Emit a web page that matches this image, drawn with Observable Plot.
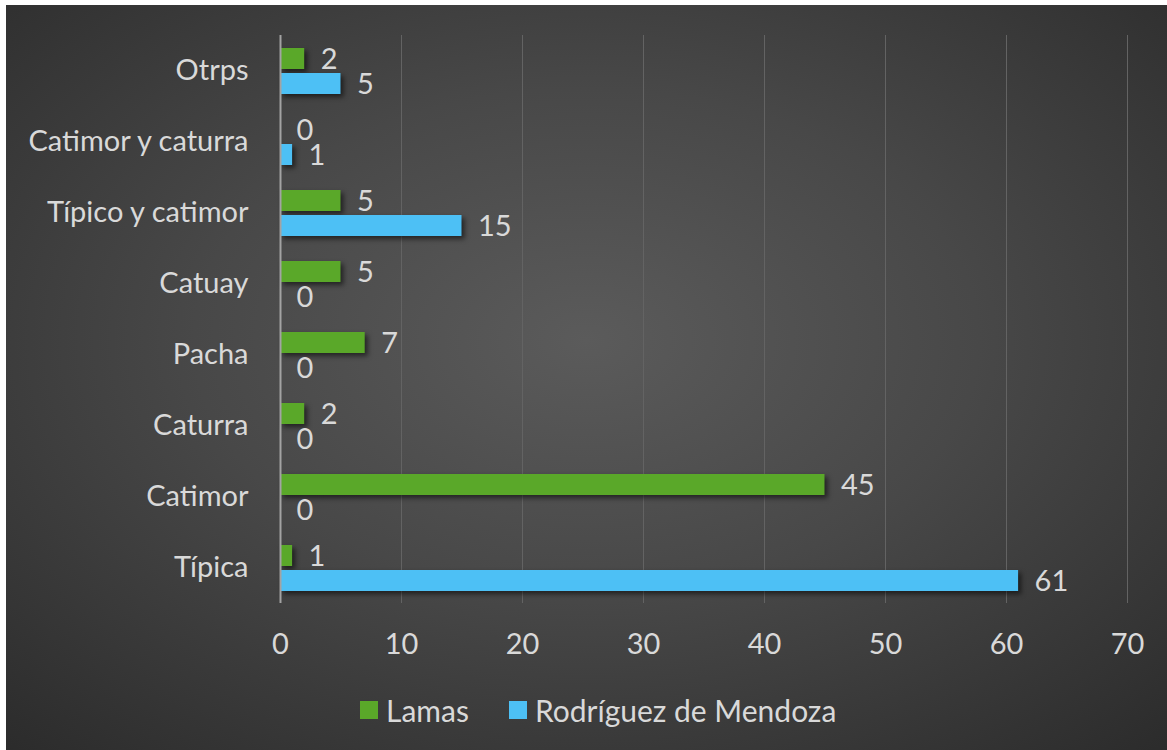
<!DOCTYPE html>
<html>
<head>
<meta charset="utf-8">
<script src="https://cdn.jsdelivr.net/npm/d3@7"></script>
<script src="https://cdn.jsdelivr.net/npm/@observablehq/plot@0.6"></script>
<style>
  html, body { margin: 0; padding: 0; background: #ffffff; width: 1167px; height: 750px; overflow: hidden; }
  #frame {
    position: absolute; left: 6px; top: 5px; width: 1161px; height: 745px;
    background: radial-gradient(ellipse 75% 75% at 50% 45%, #5b5b5b 0%, #484848 45%, #2b2b2b 100%);
    font-family: Lato, "Open Sans", sans-serif;
  }
  #chart svg { display: block; }
  #chart g[aria-label="bar"] rect { filter: drop-shadow(3px 3px 2.5px rgba(0,0,0,0.55)); }
  #legend {
    position: absolute; left: 354px; top: 690px; height: 30px;
    display: flex; align-items: center; color: #d9d9d9; font-size: 30px; font-family: Lato, sans-serif;
  }
  #legend .sw { width: 18px; height: 18px; margin-right: 8px; display: inline-block; }
  #legend .item { display: flex; align-items: center; margin-right: 40px; }
</style>
</head>
<body>
<div id="frame">
  <div id="chart"></div>
  <div id="legend"></div>
</div>
<script>
const categories = ["Otrps", "Catimor y caturra", "Típico y catimor", "Catuay", "Pacha", "Caturra", "Catimor", "Típica"];
const seriesNames = ["Lamas", "Rodríguez de Mendoza"];
const lamas = [2, 0, 5, 5, 7, 2, 45, 1];
const rodriguez = [5, 1, 15, 0, 0, 0, 0, 61];
const colors = ["#5aa829", "#4dc0f5"];
const xTicks = [0, 10, 20, 30, 40, 50, 60, 70];

const data = [];
categories.forEach((c, i) => {
  data.push({category: c, series: seriesNames[0], value: lamas[i]});
  data.push({category: c, series: seriesNames[1], value: rodriguez[i]});
});

const chart = Plot.plot({
  width: 1161,
  height: 665,
  marginTop: 29,
  marginBottom: 67,
  marginLeft: 274,
  marginRight: 40,
  style: {background: "transparent", color: "#d9d9d9", fontFamily: "Lato, 'Open Sans', sans-serif", fontSize: "29px"},
  facet: {data, y: "category"},
  fy: {domain: categories, padding: 0, axis: "left", label: null, tickSize: 0, tickPadding: 32},
  y: {domain: seriesNames, axis: null, paddingInner: 0.16, paddingOuter: 0.48},
  x: {domain: [0, 70], ticks: xTicks, tickSize: 0, tickPadding: 30, label: null, tickFormat: d => String(d)},
  color: {domain: seriesNames, range: colors},
  marks: [
    Plot.ruleX(xTicks.slice(1), {stroke: "#636363", strokeWidth: 1}),
    Plot.barX(data, {x: "value", y: "series", fill: "series"}),
    Plot.ruleX([0], {stroke: "#a3a3a3", strokeWidth: 2}),
    Plot.text(data, {x: "value", y: "series", text: d => String(d.value), dx: 16, dy: 1, textAnchor: "start", fill: "#d9d9d9", fontSize: 29})
  ]
});
document.getElementById("chart").appendChild(chart);

const legend = document.getElementById("legend");
seriesNames.forEach((s, i) => {
  const item = document.createElement("div");
  item.className = "item";
  const sw = document.createElement("span");
  sw.className = "sw";
  sw.style.background = colors[i];
  const t = document.createElement("span");
  t.textContent = s;
  item.appendChild(sw);
  item.appendChild(t);
  legend.appendChild(item);
});
</script>
</body>
</html>
